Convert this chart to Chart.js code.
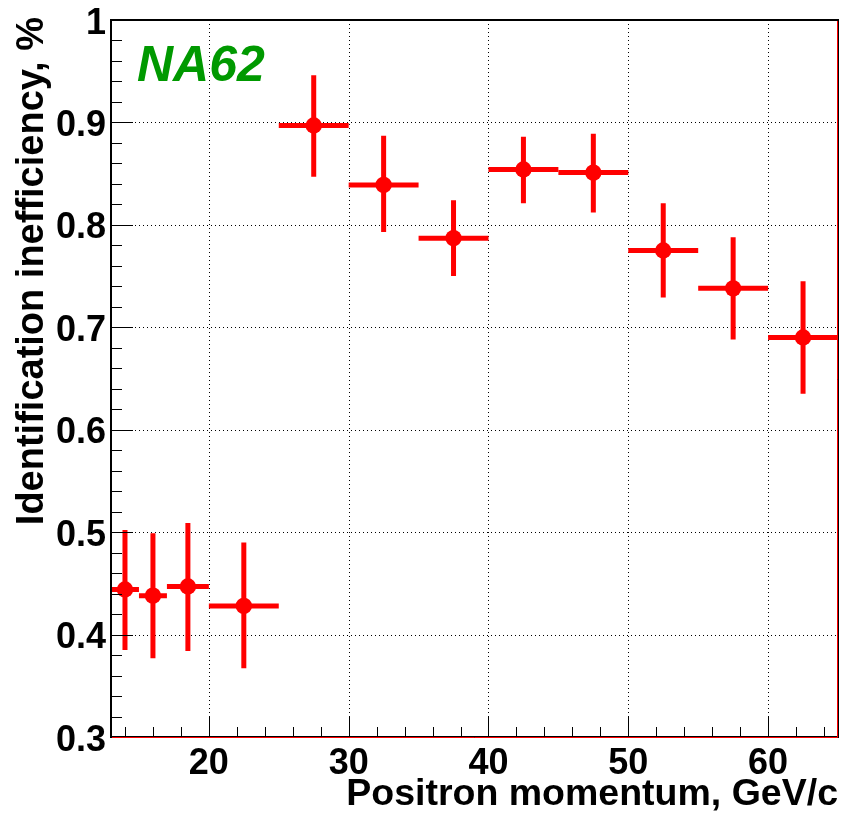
<!DOCTYPE html>
<html>
<head>
<meta charset="utf-8">
<script src="https://cdn.jsdelivr.net/npm/chart.js@4"></script>
<style>
  html, body { margin: 0; padding: 0; background: #fff; }
  #chart { display: block; }
</style>
</head>
<body>
<canvas id="chart" width="843" height="813"></canvas>
<script>
// bins in positron momentum (GeV/c)
const binLow  = [13, 15, 17,   20,   25,   30,   35,   40,   45,   50,   55,   60];
const binHigh = [15, 17, 20,   25,   30,   35,   40,   45,   50,   55,   60,   65];
const momentum = [14, 16, 18.5, 22.5, 27.5, 32.5, 37.5, 42.5, 47.5, 52.5, 57.5, 62.5];
// identification inefficiency, % and its error band
const ineff   = [0.444, 0.438, 0.447, 0.428, 0.897, 0.839, 0.787, 0.854, 0.851, 0.775, 0.738, 0.690];
const ineffLo = [0.385, 0.377, 0.384, 0.367, 0.847, 0.793, 0.750, 0.821, 0.812, 0.729, 0.688, 0.635];
const ineffHi = [0.502, 0.499, 0.509, 0.490, 0.946, 0.887, 0.824, 0.886, 0.889, 0.821, 0.788, 0.745];

const xTicks = [20, 30, 40, 50, 60];
const yTicks = [0.3, 0.4, 0.5, 0.6, 0.7, 0.8, 0.9, 1.0];
const yTickLabels = ['0.3', '0.4', '0.5', '0.6', '0.7', '0.8', '0.9', '1'];

const FONT = '"Liberation Sans", Arial, Helvetica, sans-serif';
const RED = '#ff0000';
const AREA = {left: 111, right: 838, top: 20, bottom: 737};

// pin the frame where the ROOT canvas has it
const pinArea = {
    id: 'pinArea',
    afterLayout(chart) {
        const a = chart.chartArea;
        Object.assign(a, AREA);
        a.width = AREA.right - AREA.left;
        a.height = AREA.bottom - AREA.top;
        const {x, y} = chart.scales;
        x.left = AREA.left; x.right = AREA.right; x.width = a.width;
        x.top = AREA.bottom; x.bottom = chart.height; x.height = chart.height - AREA.bottom;
        y.top = AREA.top; y.bottom = AREA.bottom; y.height = a.height;
        y.left = 0; y.right = AREA.left; y.width = AREA.left;
        x.configure();
        y.configure();
    }
};

// dotted grid, frame, inward ticks, labels
const frame = {
    id: 'frame',
    beforeDatasetsDraw(chart) {
        const {ctx, chartArea: a, scales: {x, y}} = chart;
        ctx.save();
        ctx.strokeStyle = '#000';
        ctx.lineWidth = 1;
        ctx.setLineDash([1, 3]);
        xTicks.forEach(v => {
            const px = Math.round(x.getPixelForValue(v)) + 0.5;
            ctx.beginPath(); ctx.moveTo(px, a.top); ctx.lineTo(px, a.bottom); ctx.stroke();
        });
        yTicks.forEach(v => {
            const py = Math.round(y.getPixelForValue(v)) + 0.5;
            ctx.beginPath(); ctx.moveTo(a.left, py); ctx.lineTo(a.right, py); ctx.stroke();
        });
        ctx.restore();
    },
    afterDatasetsDraw(chart) {
        const {ctx, chartArea: a, scales: {x, y}} = chart;
        ctx.save();
        ctx.strokeStyle = '#000';
        ctx.lineWidth = 1;
        // y ticks
        for (let v = 0.3; v <= 1.0001; v += 0.02) {
            const major = Math.abs(v * 10 - Math.round(v * 10)) < 1e-6;
            const py = Math.round(y.getPixelForValue(v)) + 0.5;
            ctx.beginPath(); ctx.moveTo(a.left, py); ctx.lineTo(a.left + (major ? 22 : 11), py); ctx.stroke();
        }
        // x ticks
        for (let v = 14; v <= 64; v += 2) {
            const major = v % 10 === 0;
            const px = Math.round(x.getPixelForValue(v)) + 0.5;
            ctx.beginPath(); ctx.moveTo(px, a.bottom); ctx.lineTo(px, a.bottom - (major ? 21 : 10)); ctx.stroke();
        }
        // frame
        ctx.lineWidth = 2;
        ctx.beginPath();
        ctx.moveTo(a.left, a.bottom); ctx.lineTo(a.left, a.top); ctx.lineTo(a.right, a.top); ctx.lineTo(a.right, a.bottom); ctx.closePath();
        ctx.stroke();
        ctx.strokeStyle = RED;
        ctx.lineWidth = 1;
        ctx.beginPath();
        ctx.moveTo(a.left + 1, a.bottom + 0.5); ctx.lineTo(a.right - 0.5, a.bottom + 0.5); ctx.lineTo(a.right - 0.5, a.top + 1);
        ctx.stroke();

        // tick labels
        ctx.fillStyle = '#000';
        ctx.font = 'bold 36px ' + FONT;
        ctx.textBaseline = 'alphabetic';
        ctx.textAlign = 'right';
        yTicks.forEach((v, i) => {
            ctx.fillText(yTickLabels[i], a.left - 5, y.getPixelForValue(v) + 13.5);
        });
        ctx.textAlign = 'center';
        xTicks.forEach(v => {
            ctx.fillText(String(v), x.getPixelForValue(v), 774);
        });

        // axis titles and experiment label
        ctx.font = 'bold 37.5px ' + FONT;
        ctx.textAlign = 'right';
        ctx.fillText('Positron momentum, GeV/c', a.right, 805);
        ctx.font = 'bold 38px ' + FONT;
        ctx.save();
        ctx.translate(43, 17);
        ctx.rotate(-Math.PI / 2);
        ctx.fillText('Identification inefficiency, %', 0, 0);
        ctx.restore();

        ctx.fillStyle = '#009900';
        ctx.font = 'italic bold 50px ' + FONT;
        ctx.textAlign = 'left';
        ctx.fillText('NA62', 137, 81);
        ctx.restore();
    }
};

// horizontal bin width and vertical error bars
const errorBars = {
    id: 'errorBars',
    beforeDatasetsDraw(chart) {
        const {ctx, scales: {x, y}} = chart;
        ctx.save();
        ctx.strokeStyle = RED;
        ctx.lineWidth = 5;
        ctx.lineCap = 'butt';
        for (let i = 0; i < ineff.length; i++) {
            const cx = x.getPixelForValue(momentum[i]);
            const cy = y.getPixelForValue(ineff[i]);
            ctx.beginPath();
            ctx.moveTo(x.getPixelForValue(binLow[i]), cy);
            ctx.lineTo(x.getPixelForValue(binHigh[i]), cy);
            ctx.moveTo(cx, y.getPixelForValue(ineffLo[i]));
            ctx.lineTo(cx, y.getPixelForValue(ineffHi[i]));
            ctx.stroke();
        }
        ctx.restore();
    }
};

const ctx = document.getElementById('chart');
new Chart(ctx, {
    type: 'scatter',
    data: {
        datasets: [{
            data: momentum.map((m, i) => ({x: m, y: ineff[i]})),
            backgroundColor: RED,
            borderColor: RED,
            pointRadius: 8.2,
            pointHoverRadius: 8.2,
            borderWidth: 0
        }]
    },
    options: {
        responsive: false,
        animation: false,
        events: [],
        plugins: {legend: {display: false}, tooltip: {enabled: false}},
        scales: {
            x: {
                type: 'linear',
                min: 13,
                max: 65,
                grid: {display: false},
                border: {display: false},
                ticks: {display: false}
            },
            y: {
                type: 'linear',
                min: 0.3,
                max: 1.0,
                grid: {display: false},
                border: {display: false},
                ticks: {display: false}
            }
        }
    },
    plugins: [pinArea, frame, errorBars]
});
</script>
</body>
</html>
